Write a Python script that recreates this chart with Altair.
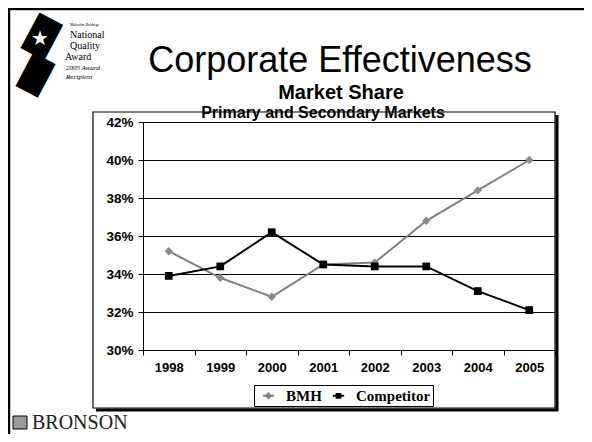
import altair as alt
import pandas as pd

# ---- data ----
years = ["1998", "1999", "2000", "2001", "2002", "2003", "2004", "2005"]
bmh = [35.2, 33.8, 32.8, 34.5, 34.6, 36.8, 38.4, 40.0]
competitor = [33.9, 34.4, 36.2, 34.5, 34.4, 34.4, 33.1, 32.1]
series_names = ["BMH", "Competitor"]
series_colors = ["#808080", "#000000"]
y_ticks = [0.30, 0.32, 0.34, 0.36, 0.38, 0.40, 0.42]

rows = []
for name, vals in zip(series_names, [bmh, competitor]):
    for yr, v in zip(years, vals):
        rows.append({"year": yr, "value": v / 100.0, "series": name})
df = pd.DataFrame(rows)
one = pd.DataFrame({"k": [0]})

SANS = "Liberation Sans"
SERIF = "Liberation Serif"

x_enc = alt.X(
    "year:O",
    sort=years,
    title=None,
    scale=alt.Scale(type="band", paddingInner=0, paddingOuter=0),
    axis=alt.Axis(
        tickBand="extent", labelAngle=0, labelFont=SANS, labelFontSize=13,
        labelFontWeight="bold", labelColor="black", labelPadding=6,
        domainColor="black", tickColor="black", tickSize=5, grid=False,
    ),
)
y_enc = alt.Y(
    "value:Q",
    title=None,
    scale=alt.Scale(domain=[0.30, 0.42], zero=False, nice=False),
    axis=alt.Axis(
        values=y_ticks, format=".0%", labelFont=SANS, labelFontSize=13.5,
        labelFontWeight="bold", labelColor="black", labelPadding=5,
        domainColor="black", tickColor="black", tickSize=5,
        grid=True, gridColor="black", gridWidth=1, gridOpacity=1,
    ),
)

base = alt.Chart(df)

# decorations (frame, box, titles)
def rule(x, x2, y, y2, w=1.0, color="black"):
    return alt.Chart(one).mark_rule(color=color, strokeWidth=w).encode(
        x=alt.value(x), x2=alt.value(x2), y=alt.value(y), y2=alt.value(y2))

def text(t, x, y, size, font=SANS, weight="normal", style="normal", align="center", color="black"):
    return alt.Chart(one).mark_text(
        text=t, font=font, fontSize=size, fontWeight=weight, fontStyle=style,
        align=align, baseline="alphabetic", color=color).encode(
        x=alt.value(x), y=alt.value(y))

def glyph(t, x, y, size, angle=0, color="black"):
    return alt.Chart(one).mark_text(
        text=t, font="DejaVu Sans", fontSize=size, angle=angle, color=color,
        align="center", baseline="middle").encode(x=alt.value(x), y=alt.value(y))

frame_left = rule(-134, -134, -114, 312, 2.5)
frame_top = rule(-135, 441, -113, -113, 2.5)
box = alt.Chart(one).mark_rect(fillOpacity=0, stroke="black", strokeWidth=1.2).encode(
    x=alt.value(-50), x2=alt.value(412), y=alt.value(-10), y2=alt.value(286))
shadow_r = rule(414, 414, -7, 289, 3)
shadow_b = rule(-47, 415, 288, 288, 3)

title1 = text("Corporate Effectiveness", 197, -50, 36)
title2 = text("Market Share", 198, -23, 20, weight="bold")
title3 = text("Primary and Secondary Markets", 180, -4, 16, weight="bold")

# logo
emblem1 = glyph("█", -102, -84, 34, angle=28)
emblem2 = glyph("█", -108, -46, 32, angle=28)
star = glyph("★", -103, -83, 20, color="white")
logo_a = text("Malcolm Baldrige", -73, -96, 4, font=SERIF, align="left")
logo1 = text("National", -73, -84, 10, font=SERIF, align="left")
logo2 = text("Quality", -73, -73, 10, font=SERIF, align="left")
logo3 = text("Award", -78, -62, 10, font=SERIF, align="left")
logo4 = text("2005 Award", -77, -52, 7, font=SERIF, style="italic", align="left")
logo5 = text("Recipient", -77, -43, 7, font=SERIF, style="italic", align="left")

bronson_icon = alt.Chart(one).mark_rect(fill="#9a9a9a", stroke="black", strokeWidth=1).encode(
    x=alt.value(-130), x2=alt.value(-116), y=alt.value(294), y2=alt.value(307))
bronson = text("BRONSON", -111, 307, 20, font=SERIF, align="left", color="#222222")

# data layers
layers = []
for name, col in zip(series_names, series_colors):
    sub = base.transform_filter(alt.datum.series == name)
    layers.append(sub.mark_line(color=col, strokeWidth=2).encode(x=x_enc, y=y_enc))
for name, col, shp, sz in zip(series_names, series_colors, ["diamond", "square"], [70, 60]):
    sub = base.transform_filter(alt.datum.series == name)
    layers.append(sub.mark_point(color="#8c8c8c" if name == "BMH" else col, filled=True,
                                 opacity=1, shape=shp, size=sz).encode(x=x_enc, y=y_enc))

# legend-only layer (marks kept outside the clipped plot area)
leg_paths = ["M-0.75,0H0.75M0,-0.3L0.3,0L0,0.3L-0.3,0Z",
             "M-0.75,0H0.75M-0.25,-0.25H0.25V0.25H-0.25Z"]
legend_def = alt.Legend(
    title=None, orient="none", legendX=111, legendY=263, direction="horizontal",
    labelFont=SERIF, labelFontSize=15, labelFontWeight="bold", labelColor="black",
    symbolSize=225, symbolStrokeWidth=2, symbolOffset=4, labelOffset=9, columnPadding=4,
    padding=2, strokeColor="black", fillColor="white", cornerRadius=0, symbolOpacity=1,
)
legend_layer = base.mark_point(filled=False, clip=True, size=225, strokeWidth=2, opacity=1).encode(
    x=x_enc,
    y=alt.value(-2000),
    shape=alt.Shape("series:N", scale=alt.Scale(domain=series_names, range=leg_paths), legend=legend_def),
    color=alt.Color("series:N", scale=alt.Scale(domain=series_names, range=series_colors), legend=legend_def),
    fill=alt.Fill("series:N", scale=alt.Scale(domain=series_names, range=series_colors), legend=legend_def),
)

chart = alt.layer(
    frame_left, frame_top, shadow_r, shadow_b, box,
    title1, title2, title3,
    emblem1, emblem2, star, logo_a, logo1, logo2, logo3, logo4, logo5,
    bronson_icon, bronson,
    *layers, legend_layer,
).properties(
    width=412, height=228,
    padding={"left": 135, "top": 114, "right": 29, "bottom": 84},
    autosize=alt.AutoSizeParams(type="none"),
    background="white",
).configure_view(strokeWidth=0)

chart.save("out.html", embed_options={"renderer": "svg", "actions": False})
